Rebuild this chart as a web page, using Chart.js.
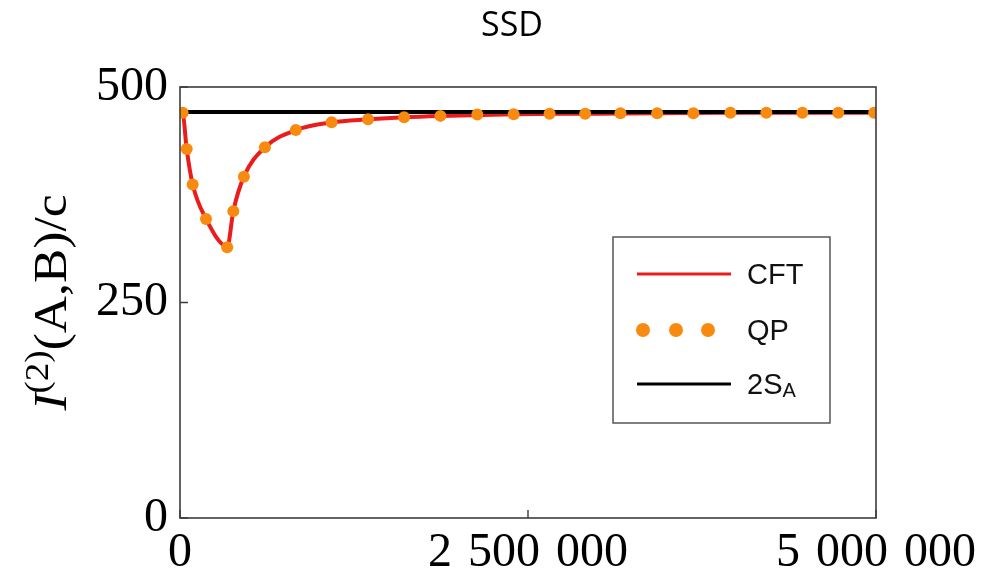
<!DOCTYPE html>
<html>
<head>
<meta charset="utf-8">
<script src="https://cdn.jsdelivr.net/npm/chart.js@4.4.1/dist/chart.umd.min.js"></script>
<style>
  html, body { margin: 0; padding: 0; background: #ffffff; }
  #wrap { width: 983px; height: 580px; }
</style>
</head>
<body>
<div id="wrap"><canvas id="c" width="983" height="580"></canvas></div>
<script>
// Quasi-particle (QP) samples
const QP_X = [19000, 48000, 91000, 187000, 339000, 383000, 459000, 610000, 832000,
              1089000, 1351000, 1610000, 1871000, 2136000, 2397000, 2655000, 2911000,
              3164000, 3428000, 3688000, 3954000, 4212000, 4471000, 4729000, 4987000];
const QP_Y = [470, 428, 387, 347, 314, 356, 396, 430, 450,
              459, 462.5, 465, 466.5, 468, 468.5, 469, 469,
              469.5, 469.5, 469.5, 470, 470, 470, 470, 470];

// CFT curve
const CFT_X = [0, 19000, 48000, 91000, 187000, 340000, 383000, 459000, 610000, 832000,
               1089000, 1351000, 1610000, 1871000, 2397000, 2911000, 3428000, 3954000,
               4471000, 5000000];
const CFT_Y = [471, 470, 428, 387, 347, 315, 356, 396, 430, 450,
               459, 462.5, 465, 466.5, 468.5, 469, 469.5, 470,
               470, 470];

// Saturation value 2S_A
const SA_X = [0, 5000000];
const SA_Y = [471, 471];

// Axis ticks
const X_TICKS = [0, 2500000, 5000000];
const Y_TICKS = [0, 250, 500];

const RED = '#ea1c1c';
const ORANGE = '#f98a10';
const BLACK = '#000000';
const FRAME = '#3c3c3c';
const SERIF = '"Liberation Serif", "Times New Roman", serif';
const SANS = '"Liberation Sans", Arial, sans-serif';

const pts = (xs, ys) => xs.map((x, i) => ({ x: x, y: ys[i] }));
// digit grouping with a narrow space
const group = v => String(v).replace(/\B(?=(\d{3})+(?!\d))/g, '\u2004');

// Plot frame with inward tick marks
const framePlugin = {
  id: 'frame',
  afterDatasetsDraw(chart) {
    const { ctx, chartArea: a, scales } = chart;
    ctx.save();
    ctx.strokeStyle = FRAME;
    ctx.lineWidth = 1.6;
    ctx.strokeRect(a.left, a.top, a.right - a.left, a.bottom - a.top);
    ctx.lineWidth = 1.4;
    ctx.beginPath();
    Y_TICKS.forEach(v => {
      const y = scales.y.getPixelForValue(v);
      ctx.moveTo(a.left, y); ctx.lineTo(a.left + 8, y);
    });
    X_TICKS.forEach(v => {
      const x = scales.x.getPixelForValue(v);
      ctx.moveTo(x, a.bottom); ctx.lineTo(x, a.bottom - 8);
    });
    ctx.stroke();
    ctx.restore();
  }
};

// Title, rotated y-axis title and legend box
const textPlugin = {
  id: 'texts',
  afterDraw(chart) {
    const { ctx, chartArea: a } = chart;
    ctx.save();

    // title
    ctx.fillStyle = '#000';
    ctx.font = '34px "Open Sans", "Noto Sans", sans-serif';
    ctx.textAlign = 'center';
    ctx.textBaseline = 'alphabetic';
    ctx.fillText('SSD', 512, 36);

    // y-axis title: I^(2)(A,B)/c
    const base = 46;
    const parts = [
      { t: 'I', font: `italic ${base}px ${SERIF}`, dy: 0 },
      { t: '(2)', font: `${Math.round(base * 0.72)}px ${SERIF}`, dy: -base * 0.4 },
      { t: '(A,B)/c', font: `${base}px ${SERIF}`, dy: 0 }
    ];
    let total = 0;
    parts.forEach(p => { ctx.font = p.font; p.w = ctx.measureText(p.t).width; total += p.w; });
    ctx.translate(66, (a.top + a.bottom) / 2);
    ctx.rotate(-Math.PI / 2);
    ctx.scale(1.12, 1);
    ctx.textAlign = 'left';
    let x = -total / 2;
    parts.forEach(p => { ctx.font = p.font; ctx.fillText(p.t, x, p.dy); x += p.w; });
    ctx.restore();

    // legend
    ctx.save();
    const bx = 613, by = 237, bw = 217, bh = 186;
    ctx.strokeStyle = '#555';
    ctx.lineWidth = 1.5;
    ctx.strokeRect(bx, by, bw, bh);
    const lx0 = 637, lx1 = 731, tx = 747;
    const rows = [274, 330, 384];
    ctx.lineWidth = 3;
    ctx.strokeStyle = RED;
    ctx.beginPath(); ctx.moveTo(lx0, rows[0]); ctx.lineTo(lx1, rows[0]); ctx.stroke();
    ctx.fillStyle = ORANGE;
    [643, 676, 708].forEach(cx => { ctx.beginPath(); ctx.arc(cx, rows[1], 7, 0, Math.PI * 2); ctx.fill(); });
    ctx.strokeStyle = BLACK;
    ctx.beginPath(); ctx.moveTo(lx0, rows[2]); ctx.lineTo(lx1, rows[2]); ctx.stroke();

    ctx.fillStyle = '#111';
    ctx.textAlign = 'left';
    ctx.textBaseline = 'alphabetic';
    ctx.font = `29px ${SANS}`;
    ctx.fillText('CFT', tx, rows[0] + 10);
    ctx.fillText('QP', tx, rows[1] + 10);
    ctx.fillText('2S', tx, rows[2] + 10);
    const w2s = ctx.measureText('2S').width;
    ctx.font = `20px ${SANS}`;
    ctx.fillText('A', tx + w2s, rows[2] + 13);
    ctx.restore();
  }
};

new Chart(document.getElementById('c'), {
  type: 'line',
  data: {
    datasets: [
      {
        label: 'QP',
        data: pts(QP_X, QP_Y),
        showLine: false,
        pointRadius: 6,
        pointBackgroundColor: ORANGE,
        pointBorderWidth: 0,
        order: 0
      },
      {
        label: '2SA',
        data: pts(SA_X, SA_Y),
        borderColor: BLACK,
        borderWidth: 4,
        pointRadius: 0,
        order: 1
      },
      {
        label: 'CFT',
        data: pts(CFT_X, CFT_Y),
        borderColor: RED,
        borderWidth: 4,
        pointRadius: 0,
        cubicInterpolationMode: 'monotone',
        order: 2
      }
    ]
  },
  options: {
    responsive: false,
    animation: false,
    devicePixelRatio: 1,
    layout: { padding: { left: 0, right: 106, top: 87, bottom: 0 } },
    plugins: { legend: { display: false }, tooltip: { enabled: false }, title: { display: false } },
    scales: {
      x: {
        type: 'linear',
        min: 0,
        max: 5000000,
        afterBuildTicks: s => { s.ticks = X_TICKS.map(v => ({ value: v })); },
        afterFit: s => { s.height = 62; },
        grid: { display: false, drawTicks: false },
        border: { display: false },
        ticks: {
          color: '#000',
          padding: 7,
          maxRotation: 0,
          autoSkip: false,
          font: { family: SERIF, size: 48 },
          callback: v => group(v)
        }
      },
      y: {
        type: 'linear',
        min: 0,
        max: 500,
        afterBuildTicks: s => { s.ticks = Y_TICKS.map(v => ({ value: v })); },
        afterFit: s => { s.width = 180; },
        grid: { display: false, drawTicks: false },
        border: { display: false },
        ticks: {
          color: '#000',
          padding: 12,
          font: { family: SERIF, size: 48 },
          callback: v => String(v)
        }
      }
    }
  },
  plugins: [framePlugin, textPlugin]
});
</script>
</body>
</html>
